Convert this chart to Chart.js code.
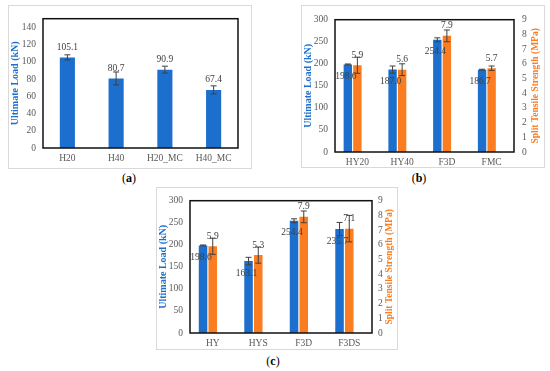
<!DOCTYPE html>
<html lang="en">
<head>
<meta charset="UTF-8">
<title>Ultimate load and split tensile strength</title>
<script src="https://cdn.jsdelivr.net/npm/chart.js"></script>
<style>
  body {
    margin: 0;
    width: 550px;
    height: 371px;
    background: #fff;
    position: relative;
    overflow: hidden;
    font-family: 'Liberation Serif', 'Times New Roman', serif;
  }
  .panel { position: absolute; border: 1px solid #d9d9d9; }
  .panel canvas { display: block; }
  .cap {
    position: absolute;
    font-size: 12px;
    color: #000;
    transform: translateX(-50%);
    white-space: nowrap;
  }
</style>
</head>
<body>
<div class="panel" style="left:8px; top:5px; width:242px; height:162px;"><canvas id="chartA" width="242" height="162"></canvas></div>
<div class="panel" style="left:301px; top:5px; width:242px; height:161px;"><canvas id="chartB" width="242" height="161"></canvas></div>
<div class="panel" style="left:156px; top:187px; width:240px; height:161px;"><canvas id="chartC" width="240" height="161"></canvas></div>
<div class="cap" style="left:129px; top:171px;">(<b>a</b>)</div>
<div class="cap" style="left:419px; top:171px;">(<b>b</b>)</div>
<div class="cap" style="left:273px; top:354px;">(<b>c</b>)</div>

<script>
// (a)
const catsA = ['H20', 'H40', 'H20_MC', 'H40_MC'];
const loadA = [105.1, 80.7, 90.9, 67.4];
const loadErrA = [3, 7.5, 4, 4.7];
const ticksA = [0, 20, 40, 60, 80, 100, 120, 140];

// (b)
const catsB = ['HY20', 'HY40', 'F3D', 'FMC'];
const loadB = [198.6, 187.0, 254.4, 186.7];
const loadErrB = [1, 8, 4.5, 1];
const tensileB = [5.9, 5.6, 7.9, 5.7];
const tensileErrB = [0.55, 0.4, 0.4, 0.15];

// (c)
const catsC = ['HY', 'HYS', 'F3D', 'F3DS'];
const loadC = [198.6, 163.1, 254.4, 235.7];
const loadErrC = [1, 8.5, 4.5, 15];
const tensileC = [5.9, 5.3, 7.9, 7.1];
const tensileErrC = [0.55, 0.55, 0.4, 0.9];

const ticksLoad = [0, 50, 100, 150, 200, 250, 300];

const BLUE = '#1c6fcc';
const ORANGE = '#fb7d22';
const SERIF = "'Liberation Serif', 'Times New Roman', serif";

// black box round the plot area
const frame = {
  id: 'frame',
  afterDraw(chart) {
    const { ctx, chartArea: a } = chart;
    ctx.save();
    ctx.strokeStyle = '#111';
    ctx.lineWidth = 1.5;
    ctx.strokeRect(a.left, a.top, a.right - a.left, a.bottom - a.top);
    ctx.restore();
  }
};

// value labels + error bars
const barExtras = {
  id: 'barExtras',
  afterDatasetsDraw(chart) {
    const ctx = chart.ctx;
    chart.data.datasets.forEach((ds, i) => {
      if (!ds.errors) return;
      const meta = chart.getDatasetMeta(i);
      const yScale = chart.scales[meta.yAxisID];
      meta.data.forEach((bar, j) => {
        const v = ds.data[j];
        const e = ds.errors[j];
        ctx.save();
        ctx.font = '9.5px ' + SERIF;
        ctx.fillStyle = '#404040';
        ctx.textAlign = 'center';
        ctx.textBaseline = 'middle';
        const ly = ds.labelInside ? bar.y + 12 : bar.y - 10;
        ctx.fillText(v.toFixed(1), bar.x + (ds.labelInside ? -2 : 0), ly);

        const top = yScale.getPixelForValue(v + e);
        const bot = yScale.getPixelForValue(v - e);
        ctx.strokeStyle = '#404040';
        ctx.lineWidth = 1;
        ctx.beginPath();
        ctx.moveTo(bar.x, top); ctx.lineTo(bar.x, bot);
        ctx.moveTo(bar.x - 3, top); ctx.lineTo(bar.x + 3, top);
        ctx.moveTo(bar.x - 3, bot); ctx.lineTo(bar.x + 3, bot);
        ctx.stroke();
        ctx.restore();
      });
    });
  }
};

// right axis title, reading bottom to top like the left one
const sideTitle = {
  id: 'sideTitle',
  afterDraw(chart, args, opts) {
    if (!opts || !opts.text) return;
    const { ctx, chartArea: a } = chart;
    ctx.save();
    ctx.translate(opts.x, (a.top + a.bottom) / 2);
    ctx.rotate(-Math.PI / 2);
    ctx.font = 'bold 9.5px ' + SERIF;
    ctx.fillStyle = opts.color;
    ctx.textAlign = 'center';
    ctx.textBaseline = 'middle';
    ctx.fillText(opts.text, 0, 0);
    ctx.restore();
  }
};

const tickFont = { family: SERIF, size: 9.5 };

function xAxis(height) {
  return {
    grid: { display: false, drawTicks: false },
    border: { display: false },
    ticks: { font: tickFont, color: '#595959', padding: 5, maxRotation: 0, autoSkip: false },
    afterFit(s) { s.height = height; }
  };
}

function loadAxis(width, max, step, tickList) {
  return {
    position: 'left',
    min: 0, max: max,
    grid: { display: false, drawTicks: false },
    border: { display: false },
    ticks: { stepSize: step, font: tickFont, color: '#595959', padding: 7 },
    afterBuildTicks(s) { s.ticks = tickList.map(v => ({ value: v })); },
    title: {
      display: true,
      text: 'Ultimate Load (kN)',
      color: BLUE,
      font: { family: SERIF, size: 10, weight: 'bold' },
      padding: 0
    },
    afterFit(s) { s.width = width; }
  };
}

function tensileAxis(width, pad) {
  return {
    position: 'right',
    min: 0, max: 9,
    grid: { display: false, drawTicks: false },
    border: { display: false },
    ticks: { stepSize: 1, font: tickFont, color: '#595959', padding: pad },
    afterFit(s) { s.width = width; }
  };
}

new Chart(document.getElementById('chartA'), {
  type: 'bar',
  data: {
    labels: catsA,
    datasets: [{
      data: loadA,
      errors: loadErrA,
      backgroundColor: BLUE,
      categoryPercentage: 1,
      barPercentage: 0.31
    }]
  },
  options: {
    responsive: false,
    animation: false,
    layout: { padding: { left: 0, right: 13, top: 7, bottom: 0 } },
    plugins: { legend: { display: false }, tooltip: { enabled: false } },
    scales: {
      x: xAxis(20),
      y: loadAxis(34, 150, 20, ticksA)
    }
  },
  plugins: [frame, barExtras, sideTitle]
});

function dualChart(id, cats, load, loadErr, tens, tensErr, pad, rightW, titleX, tickPad) {
  const spacer = cats.map(() => null);
  new Chart(document.getElementById(id), {
    type: 'bar',
    data: {
      labels: cats,
      datasets: [
        { data: load, errors: loadErr, labelInside: true, yAxisID: 'y', backgroundColor: BLUE, categoryPercentage: 0.64, barPercentage: 0.88 },
        { data: tens, errors: tensErr, yAxisID: 'y1', backgroundColor: ORANGE, categoryPercentage: 0.64, barPercentage: 0.88 },
        { data: spacer, yAxisID: 'y', backgroundColor: 'rgba(0,0,0,0)', categoryPercentage: 0.64, barPercentage: 0.88 }
      ]
    },
    options: {
      responsive: false,
      animation: false,
      layout: { padding: pad },
      plugins: {
        legend: { display: false },
        tooltip: { enabled: false },
        sideTitle: { text: 'Split Tensile Strength (MPa)', color: ORANGE, x: titleX }
      },
      scales: {
        x: xAxis(pad.xh),
        y: loadAxis(33, 300, 50, ticksLoad),
        y1: tensileAxis(rightW, tickPad)
      }
    },
    plugins: [frame, barExtras, sideTitle]
  });
}

dualChart('chartB', catsB, loadB, loadErrB, tensileB, tensileErrB,
  { left: 0, right: 0, top: 8, bottom: 0, xh: 15 }, 30, 234, 8);
dualChart('chartC', catsC, loadC, loadErrC, tensileC, tensileErrC,
  { left: 0, right: 0, top: 7, bottom: 0, xh: 16 }, 25, 233, 6);
</script>
</body>
</html>
